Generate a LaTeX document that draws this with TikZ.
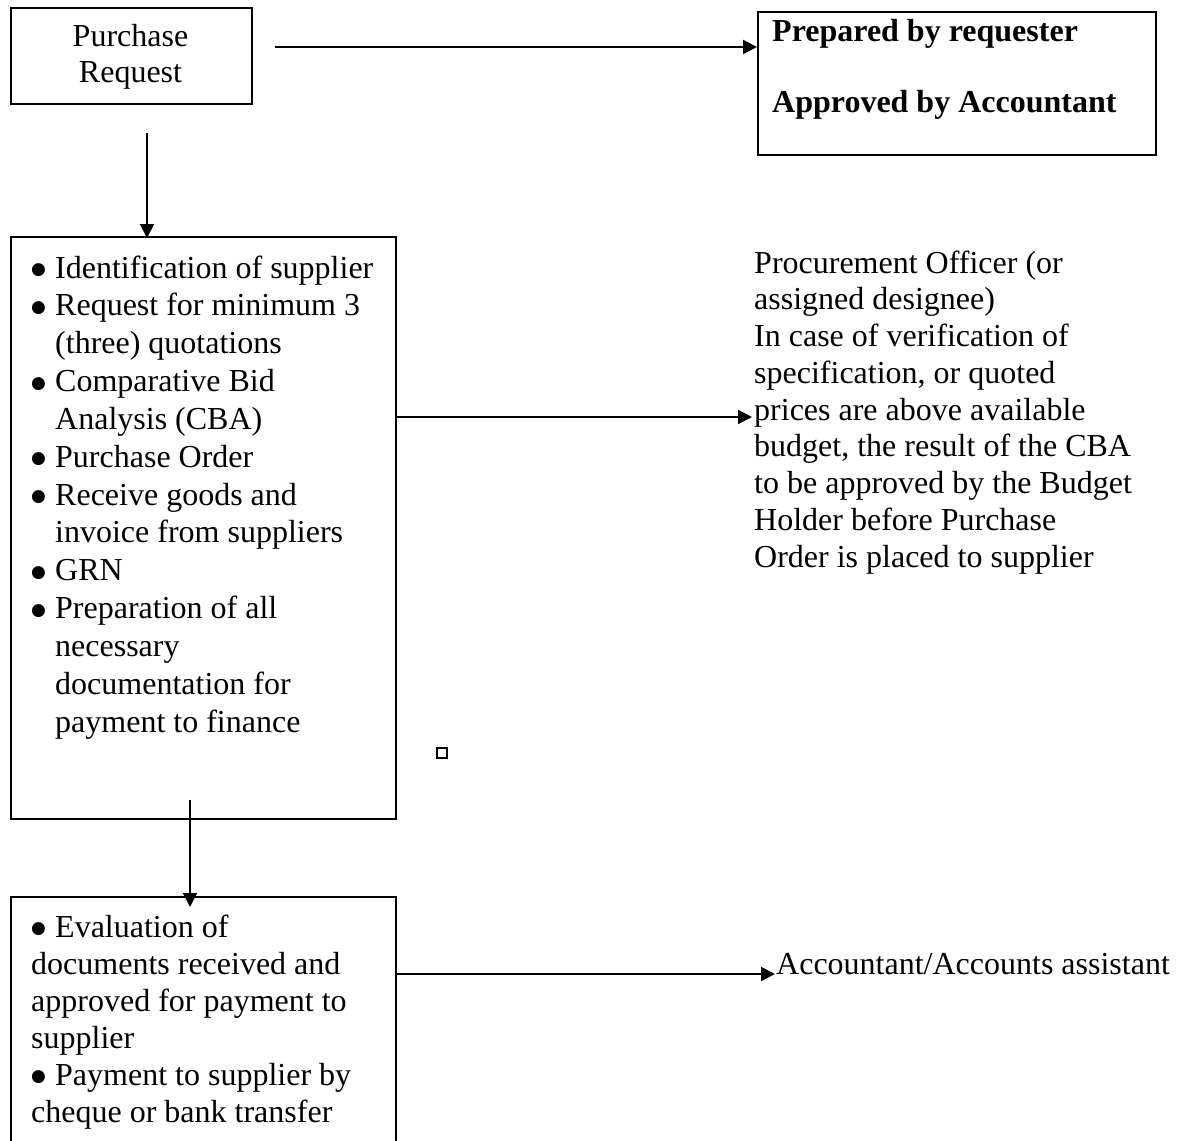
\documentclass[tikz,border=0pt]{standalone}
\usepackage{fontspec}
\setmainfont{Liberation Serif}
\newfontfamily\symfont{DejaVu Sans}
\usetikzlibrary{arrows.meta}
\begin{document}
\begin{tikzpicture}[x=1pt,y=-1pt,
  box/.style={draw, line width=2pt, inner sep=0pt, anchor=north west},
  conn/.style={line width=2pt, -{Triangle[length=14pt,width=14pt]}},
  txt/.style={anchor=base west, inner sep=0pt, font=\fontsize{32}{37}\selectfont},
  bul/.style={anchor=base west, inner sep=0pt, font=\symfont\fontsize{17}{19}\selectfont, yshift=3.5pt},
  ctxt/.style={txt, anchor=base},
  btxt/.style={txt, font=\fontsize{32}{37}\selectfont\bfseries}]
\useasboundingbox[fill=white] (0,0) rectangle (1180,1140);

% boxes
\node[box, minimum width=241pt, minimum height=96pt] (pr) at (10,7) {};
\node[box, minimum width=398pt, minimum height=143pt] (apr) at (757,11) {};
\node[box, minimum width=385pt, minimum height=582pt] (proc) at (10,236) {};
\node[box, minimum width=385pt, minimum height=300pt] (pay) at (10,896) {};
\node[draw, line width=2pt, inner sep=0pt, minimum size=10pt] (sq) at (441.5,752.5) {};

% box 1 text
\node[ctxt] (pr1) at (130.5,47) {Purchase};
\node[ctxt] (pr2) at (130.5,82) {Request};

% box 2 text
\node[btxt] (ap1) at (772,42) {Prepared by requester};
\node[btxt] (ap2) at (772,112) {Approved by Accountant};

% box 3 text
\node[bul] (c1b) at (31,278) {●};   \node[txt] (c1) at (55,278) {Identification of supplier};
\node[bul] (c2b) at (31,315.8) {●}; \node[txt] (c2) at (55,315.8) {Request for minimum 3};
\node[txt] (c3) at (55,353.7) {(three) quotations};
\node[bul] (c4b) at (31,391.5) {●}; \node[txt] (c4) at (55,391.5) {Comparative Bid};
\node[txt] (c5) at (55,429.3) {Analysis (CBA)};
\node[bul] (c6b) at (31,467.2) {●}; \node[txt] (c6) at (55,467.2) {Purchase Order};
\node[bul] (c7b) at (31,505) {●};   \node[txt] (c7) at (55,505) {Receive goods and};
\node[txt] (c8) at (55,542.8) {invoice from suppliers};
\node[bul] (c9b) at (31,580.7) {●}; \node[txt] (c9) at (55,580.7) {GRN};
\node[bul] (c10b) at (31,618.5) {●}; \node[txt] (c10) at (55,618.5) {Preparation of all};
\node[txt] (c11) at (55,656.3) {necessary};
\node[txt] (c12) at (55,694.2) {documentation for};
\node[txt] (c13) at (55,732) {payment to finance};

% right text block
\node[txt] (r1) at (754,273) {Procurement Officer (or};
\node[txt] (r2) at (754,309.75) {assigned designee)};
\node[txt] (r3) at (754,346.5) {In case of verification of};
\node[txt] (r4) at (754,383.25) {specification, or quoted};
\node[txt] (r5) at (754,420) {prices are above available};
\node[txt] (r6) at (754,456.75) {budget, the result of the CBA};
\node[txt] (r7) at (754,493.5) {to be approved by the Budget};
\node[txt] (r8) at (754,530.25) {Holder before Purchase};
\node[txt] (r9) at (754,567) {Order is placed to supplier};

% box 4 text
\node[bul] (p1b) at (31,937) {●}; \node[txt] (p1) at (55,937) {Evaluation of};
\node[txt] (p2) at (31,974) {documents received and};
\node[txt] (p3) at (31,1011) {approved for payment to};
\node[txt] (p4) at (31,1048) {supplier};
\node[bul] (p5b) at (31,1085) {●}; \node[txt] (p5) at (55,1085) {Payment to supplier by};
\node[txt] (p6) at (31,1122) {cheque or bank transfer};

% accountant text
\node[txt] (acc) at (776,974) {Accountant/Accounts assistant};

% connectors
\coordinate (a1s) at (275,47);
\draw[conn] (a1s) -- (apr.west |- a1s);
\coordinate (a2s) at (147,133);
\draw[conn] (a2s) -- ([yshift=-2pt]a2s |- proc.north);
\coordinate (a3s) at (proc.east |- 0,417);
\coordinate (a3e) at (752,417);
\draw[conn] (a3s) -- (a3e);
\coordinate (a4s) at (190,800);
\coordinate (a4e) at (190,907);
\draw[conn] (a4s) -- (a4e);
\coordinate (a5s) at (pay.east |- 0,974);
\coordinate (a5e) at (775,974);
\draw[conn] (a5s) -- (a5e);
\end{tikzpicture}
\end{document}
